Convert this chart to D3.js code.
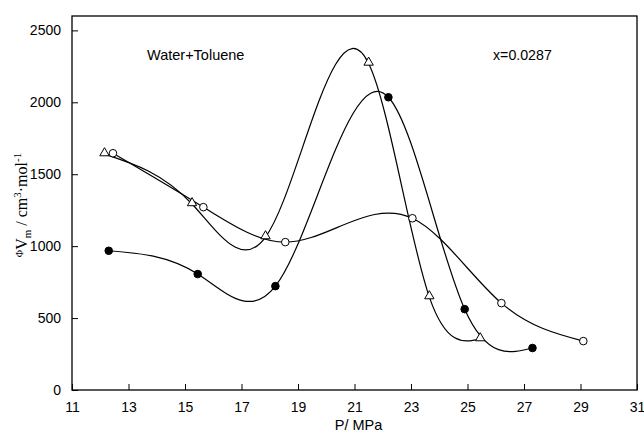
<!DOCTYPE html>
<html>
<head>
<meta charset="utf-8">
<script src="https://cdn.jsdelivr.net/npm/d3@7"></script>
<style>
  body { margin: 0; background: #fff; }
  text { font-family: Arial, "Liberation Sans", sans-serif; fill: #000; }
</style>
</head>
<body>
<div id="chart"></div>
<script>
'use strict';

// pressure (MPa) and apparent molar volume values
const filledP = [12.3, 15.45, 18.2, 22.2, 24.9, 27.3];
const filledV = [968, 806, 722, 2035, 562, 292];

const triP = [12.15, 15.25, 17.85, 21.5, 23.65, 25.45];
const triV = [1640, 1293, 1063, 2270, 646, 354];

const openP = [12.45, 15.65, 18.55, 23.05, 26.2, 29.1];
const openV = [1646, 1271, 1028, 1194, 604, 340];

const xTicks = [11, 13, 15, 17, 19, 21, 23, 25, 27, 29, 31];
const yTicks = [0, 500, 1000, 1500, 2000, 2500];

const width = 644, height = 438;
const margin = { top: 16, right: 7, bottom: 48, left: 72 };

/**
 * Natural cubic spline y(x) as a d3 curve factory
 * (the plotting program drew y as a spline of x, not of point index)
 */
function SplineX (context) {
  this._context = context;
}
SplineX.prototype = {
  areaStart () { this._line = 0; },
  areaEnd () { this._line = NaN; },
  lineStart () { this._x = []; this._y = []; },
  point (x, y) { this._x.push(+x); this._y.push(+y); },
  lineEnd () {
    const xs = this._x, ys = this._y, n = xs.length;
    const ctx = this._context;
    if (!n) return;
    ctx.moveTo(xs[0], ys[0]);
    if (n < 3) {
      for (let i = 1; i < n; i++) ctx.lineTo(xs[i], ys[i]);
      return;
    }
    const h = [];
    for (let i = 0; i < n - 1; i++) h.push(xs[i + 1] - xs[i]);
    // tridiagonal solve for second derivatives, natural ends
    const m = new Array(n).fill(0);
    const a = [], b = [], c = [], r = [];
    for (let i = 1; i < n - 1; i++) {
      a.push(h[i - 1]);
      b.push(2 * (h[i - 1] + h[i]));
      c.push(h[i]);
      r.push(6 * ((ys[i + 1] - ys[i]) / h[i] - (ys[i] - ys[i - 1]) / h[i - 1]));
    }
    const k = b.length;
    for (let i = 1; i < k; i++) {
      const w = a[i] / b[i - 1];
      b[i] -= w * c[i - 1];
      r[i] -= w * r[i - 1];
    }
    m[k] = r[k - 1] / b[k - 1];
    for (let i = k - 2; i >= 0; i--) m[i + 1] = (r[i] - c[i] * m[i + 2]) / b[i];
    const d = [];
    for (let i = 0; i < n - 1; i++) {
      d.push((ys[i + 1] - ys[i]) / h[i] - h[i] * (2 * m[i] + m[i + 1]) / 6);
    }
    d.push((ys[n - 1] - ys[n - 2]) / h[n - 2] + h[n - 2] * (m[n - 2] + 2 * m[n - 1]) / 6);
    for (let i = 0; i < n - 1; i++) {
      ctx.bezierCurveTo(
        xs[i] + h[i] / 3, ys[i] + h[i] * d[i] / 3,
        xs[i + 1] - h[i] / 3, ys[i + 1] - h[i] * d[i + 1] / 3,
        xs[i + 1], ys[i + 1]
      );
    }
  }
};
const curveSplineX = context => new SplineX(context);

const svg = d3.select('#chart').append('svg')
  .attr('width', width)
  .attr('height', height)
  .attr('viewBox', `0 0 ${width} ${height}`);

const x = d3.scaleLinear().domain([11, 31]).range([margin.left, width - margin.right]);
const y = d3.scaleLinear().domain([0, 2600]).range([height - margin.bottom, margin.top]);

const x0 = x.range()[0], x1 = x.range()[1];
const y0 = y.range()[0], y1 = y.range()[1];

// frame
svg.append('rect')
  .attr('x', x0).attr('y', y1)
  .attr('width', x1 - x0).attr('height', y0 - y1)
  .attr('fill', 'none').attr('stroke', '#000').attr('stroke-width', 1.3);

// bottom axis, ticks pointing inward
const xAxis = svg.append('g').attr('transform', `translate(0,${y0})`);
xAxis.call(d3.axisBottom(x).tickValues(d3.range(11, 31.1, 1)).tickSize(-3).tickFormat(''))
  .call(g => g.select('.domain').remove());
xAxis.call(d3.axisBottom(x).tickValues(xTicks).tickSize(-6).tickPadding(12).tickFormat(d3.format('d')))
  .call(g => g.select('.domain').remove())
  .call(g => g.selectAll('text').attr('font-size', 14));

// left axis, ticks pointing inward
const yAxis = svg.append('g').attr('transform', `translate(${x0},0)`);
yAxis.call(d3.axisLeft(y).tickValues(d3.range(0, 2600, 250)).tickSize(-3).tickFormat(''))
  .call(g => g.select('.domain').remove());
yAxis.call(d3.axisLeft(y).tickValues(yTicks).tickSize(-6).tickPadding(11).tickFormat(d3.format('d')))
  .call(g => g.select('.domain').remove())
  .call(g => g.selectAll('text').attr('font-size', 14));

svg.selectAll('.tick line').attr('stroke', '#000');

// curves
const line = d3.line()
  .x(d => x(d[0]))
  .y(d => y(d[1]))
  .curve(curveSplineX);

const series = [
  { p: filledP, v: filledV, mark: 'filled' },
  { p: triP, v: triV, mark: 'triangle' },
  { p: openP, v: openV, mark: 'open' }
];

series.forEach(s => {
  svg.append('path')
    .datum(d3.zip(s.p, s.v))
    .attr('d', line)
    .attr('fill', 'none')
    .attr('stroke', '#000')
    .attr('stroke-width', 1.2);
});

series.forEach(s => {
  const pts = d3.zip(s.p, s.v);
  const g = svg.append('g');
  if (s.mark === 'triangle') {
    g.selectAll('path').data(pts).enter().append('path')
      .attr('d', d3.symbol().type(d3.symbolTriangle).size(38))
      .attr('transform', d => `translate(${x(d[0])},${y(d[1]) - 1})`)
      .attr('fill', '#fff').attr('stroke', '#000').attr('stroke-width', 1);
  } else {
    g.selectAll('circle').data(pts).enter().append('circle')
      .attr('cx', d => x(d[0]))
      .attr('cy', d => y(d[1]))
      .attr('r', 3.8)
      .attr('fill', s.mark === 'filled' ? '#000' : '#fff')
      .attr('stroke', '#000').attr('stroke-width', 1);
  }
});

// annotations
svg.append('text').attr('x', 147).attr('y', 60).attr('font-size', 14.5).text('Water+Toluene');
svg.append('text').attr('x', 493).attr('y', 60).attr('font-size', 14.2).text('x=0.0287');

svg.append('text')
  .attr('x', (x0 + x1) / 2 + 4).attr('y', 430)
  .attr('text-anchor', 'middle').attr('font-size', 14.5)
  .text('P/ MPa');

// y label with serif font
const ylab = svg.append('text')
  .attr('transform', `translate(27,${(y0 + y1) / 2 + 2}) rotate(-90)`)
  .attr('text-anchor', 'middle')
  .style('font-family', '"Liberation Serif", "DejaVu Serif", serif')
  .style('fill', '#000')
  .attr('font-size', 16);
ylab.append('tspan').attr('font-size', 10).attr('dy', -4).text('Φ');
ylab.append('tspan').attr('dy', 4).text('V');
ylab.append('tspan').attr('font-size', 11).attr('dy', 4).text('m');
ylab.append('tspan').attr('dy', -4).text(' / cm');
ylab.append('tspan').attr('font-size', 11).attr('dy', -6).text('3');
ylab.append('tspan').attr('dy', 6).text('·mol');
ylab.append('tspan').attr('font-size', 11).attr('dy', -6).text('-1');
</script>
</body>
</html>
